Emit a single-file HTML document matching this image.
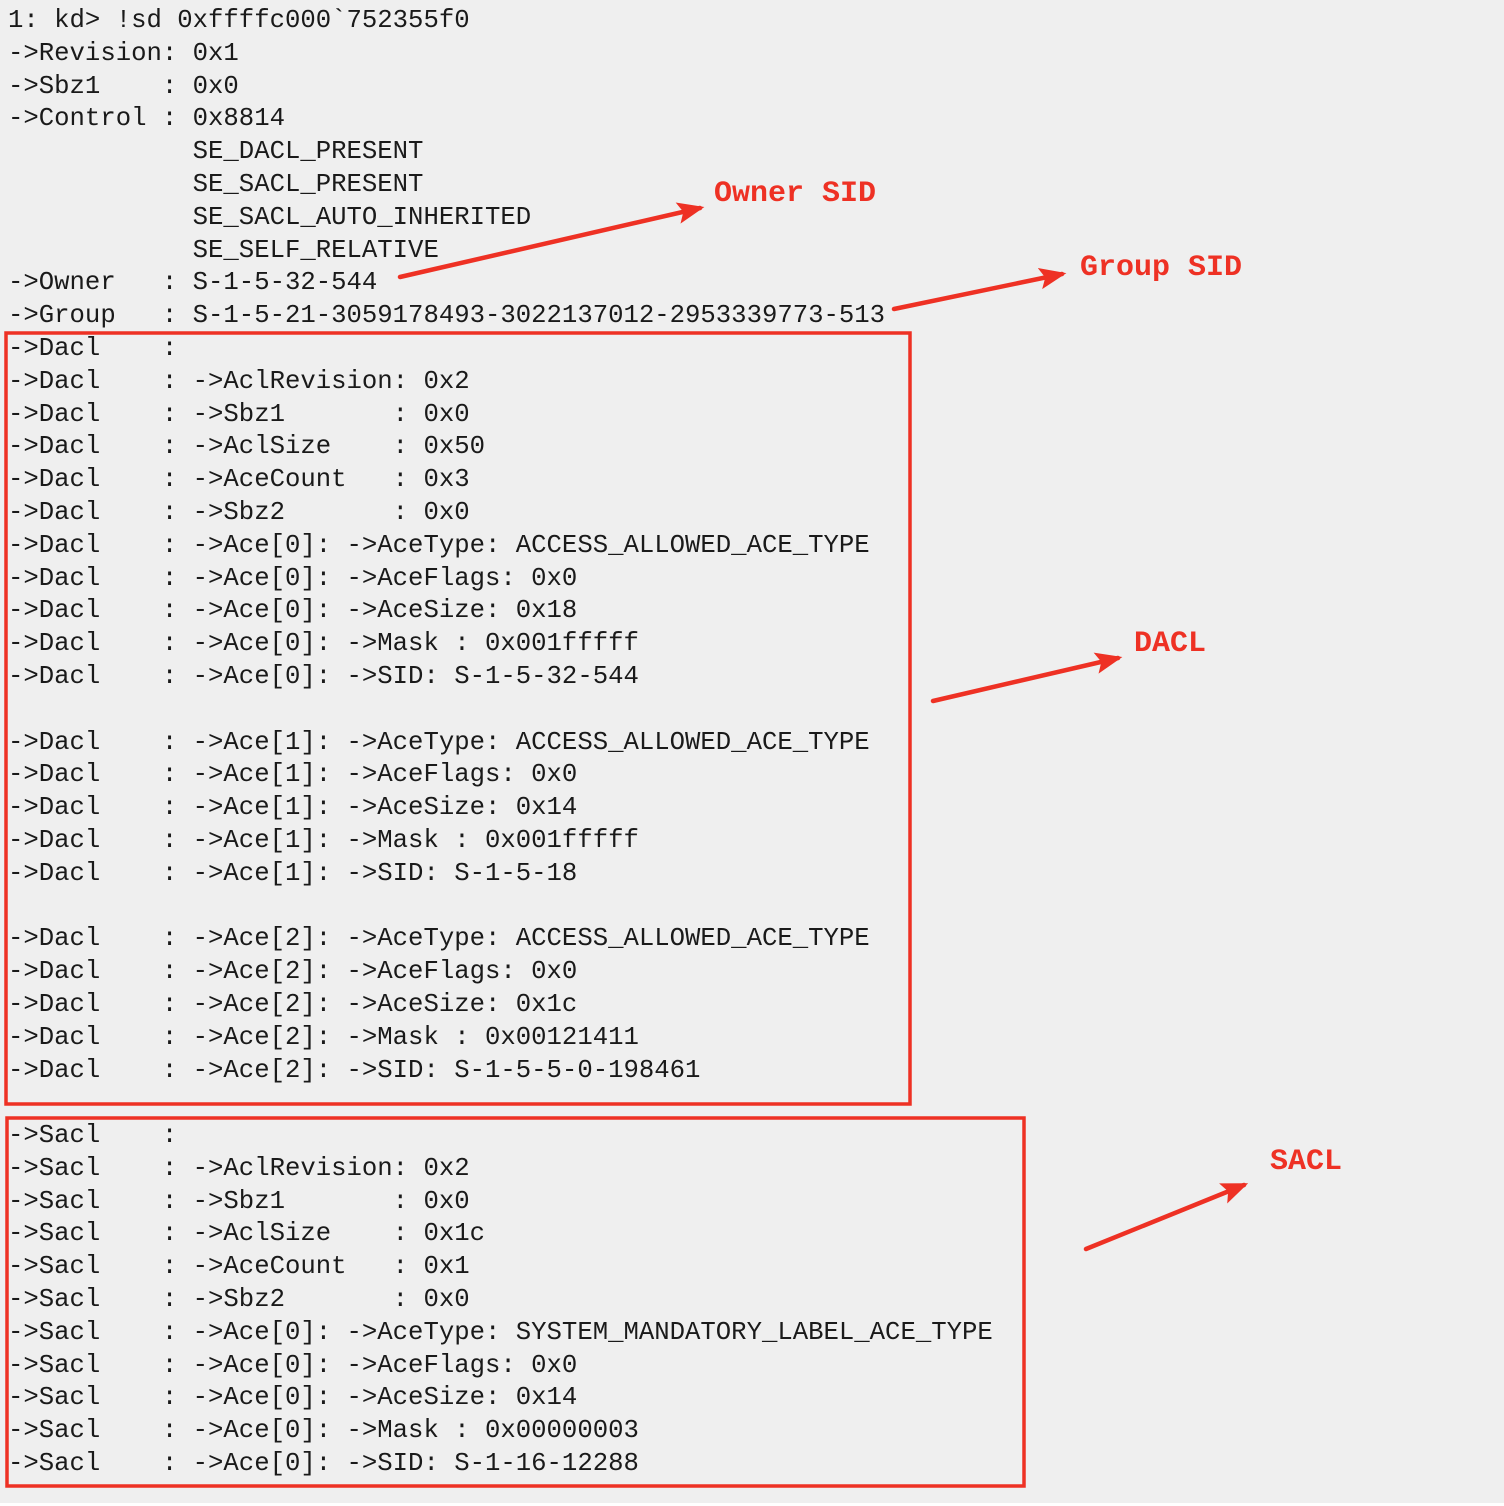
<!DOCTYPE html>
<html><head><style>
body{margin:0;width:1504px;height:1506px;background:#fff;overflow:hidden;position:relative}
#bg{position:absolute;left:0;top:0;width:1504px;height:1503px;background:#efefef}
pre{position:absolute;left:8px;top:5px;margin:0;font-family:"Liberation Mono",monospace;font-size:25.65px;line-height:32.8px;color:#1a1a1a}
.lab{position:absolute;font-family:"Liberation Mono",monospace;font-weight:bold;font-size:30px;color:#ee3124;line-height:30px}
svg{position:absolute;left:0;top:0}
</style></head><body>
<div id="bg"></div>
<pre>1: kd&gt; !sd 0xffffc000`752355f0
-&gt;Revision: 0x1
-&gt;Sbz1    : 0x0
-&gt;Control : 0x8814
            SE_DACL_PRESENT
            SE_SACL_PRESENT
            SE_SACL_AUTO_INHERITED
            SE_SELF_RELATIVE
-&gt;Owner   : S-1-5-32-544
-&gt;Group   : S-1-5-21-3059178493-3022137012-2953339773-513
-&gt;Dacl    :
-&gt;Dacl    : -&gt;AclRevision: 0x2
-&gt;Dacl    : -&gt;Sbz1       : 0x0
-&gt;Dacl    : -&gt;AclSize    : 0x50
-&gt;Dacl    : -&gt;AceCount   : 0x3
-&gt;Dacl    : -&gt;Sbz2       : 0x0
-&gt;Dacl    : -&gt;Ace[0]: -&gt;AceType: ACCESS_ALLOWED_ACE_TYPE
-&gt;Dacl    : -&gt;Ace[0]: -&gt;AceFlags: 0x0
-&gt;Dacl    : -&gt;Ace[0]: -&gt;AceSize: 0x18
-&gt;Dacl    : -&gt;Ace[0]: -&gt;Mask : 0x001fffff
-&gt;Dacl    : -&gt;Ace[0]: -&gt;SID: S-1-5-32-544

-&gt;Dacl    : -&gt;Ace[1]: -&gt;AceType: ACCESS_ALLOWED_ACE_TYPE
-&gt;Dacl    : -&gt;Ace[1]: -&gt;AceFlags: 0x0
-&gt;Dacl    : -&gt;Ace[1]: -&gt;AceSize: 0x14
-&gt;Dacl    : -&gt;Ace[1]: -&gt;Mask : 0x001fffff
-&gt;Dacl    : -&gt;Ace[1]: -&gt;SID: S-1-5-18

-&gt;Dacl    : -&gt;Ace[2]: -&gt;AceType: ACCESS_ALLOWED_ACE_TYPE
-&gt;Dacl    : -&gt;Ace[2]: -&gt;AceFlags: 0x0
-&gt;Dacl    : -&gt;Ace[2]: -&gt;AceSize: 0x1c
-&gt;Dacl    : -&gt;Ace[2]: -&gt;Mask : 0x00121411
-&gt;Dacl    : -&gt;Ace[2]: -&gt;SID: S-1-5-5-0-198461

-&gt;Sacl    :
-&gt;Sacl    : -&gt;AclRevision: 0x2
-&gt;Sacl    : -&gt;Sbz1       : 0x0
-&gt;Sacl    : -&gt;AclSize    : 0x1c
-&gt;Sacl    : -&gt;AceCount   : 0x1
-&gt;Sacl    : -&gt;Sbz2       : 0x0
-&gt;Sacl    : -&gt;Ace[0]: -&gt;AceType: SYSTEM_MANDATORY_LABEL_ACE_TYPE
-&gt;Sacl    : -&gt;Ace[0]: -&gt;AceFlags: 0x0
-&gt;Sacl    : -&gt;Ace[0]: -&gt;AceSize: 0x14
-&gt;Sacl    : -&gt;Ace[0]: -&gt;Mask : 0x00000003
-&gt;Sacl    : -&gt;Ace[0]: -&gt;SID: S-1-16-12288</pre>
<svg width="1504" height="1506">
<defs><marker id="a" markerWidth="6" markerHeight="6" refX="5" refY="3" orient="auto" markerUnits="strokeWidth"><path d="M0,0.6 L6,3 L0,5.4 L1.2,3z" fill="#ee3124"/></marker></defs>
<g fill="none" stroke="#ee3124" stroke-width="3.5">
<rect x="6" y="333" width="904" height="771"/>
<rect x="7" y="1118" width="1017" height="368"/>
</g>
<g stroke="#ee3124" stroke-width="4.5" stroke-linecap="round" marker-end="url(#a)">
<line x1="400" y1="277" x2="700" y2="208"/>
<line x1="894" y1="309" x2="1062" y2="274"/>
<line x1="933" y1="701" x2="1118" y2="658"/>
<line x1="1086" y1="1249" x2="1244" y2="1185"/>
</g>
</svg>
<div class="lab" style="left:714px;top:179px">Owner SID</div>
<div class="lab" style="left:1080px;top:253px">Group SID</div>
<div class="lab" style="left:1134px;top:629px">DACL</div>
<div class="lab" style="left:1270px;top:1147px">SACL</div>
</body></html>
